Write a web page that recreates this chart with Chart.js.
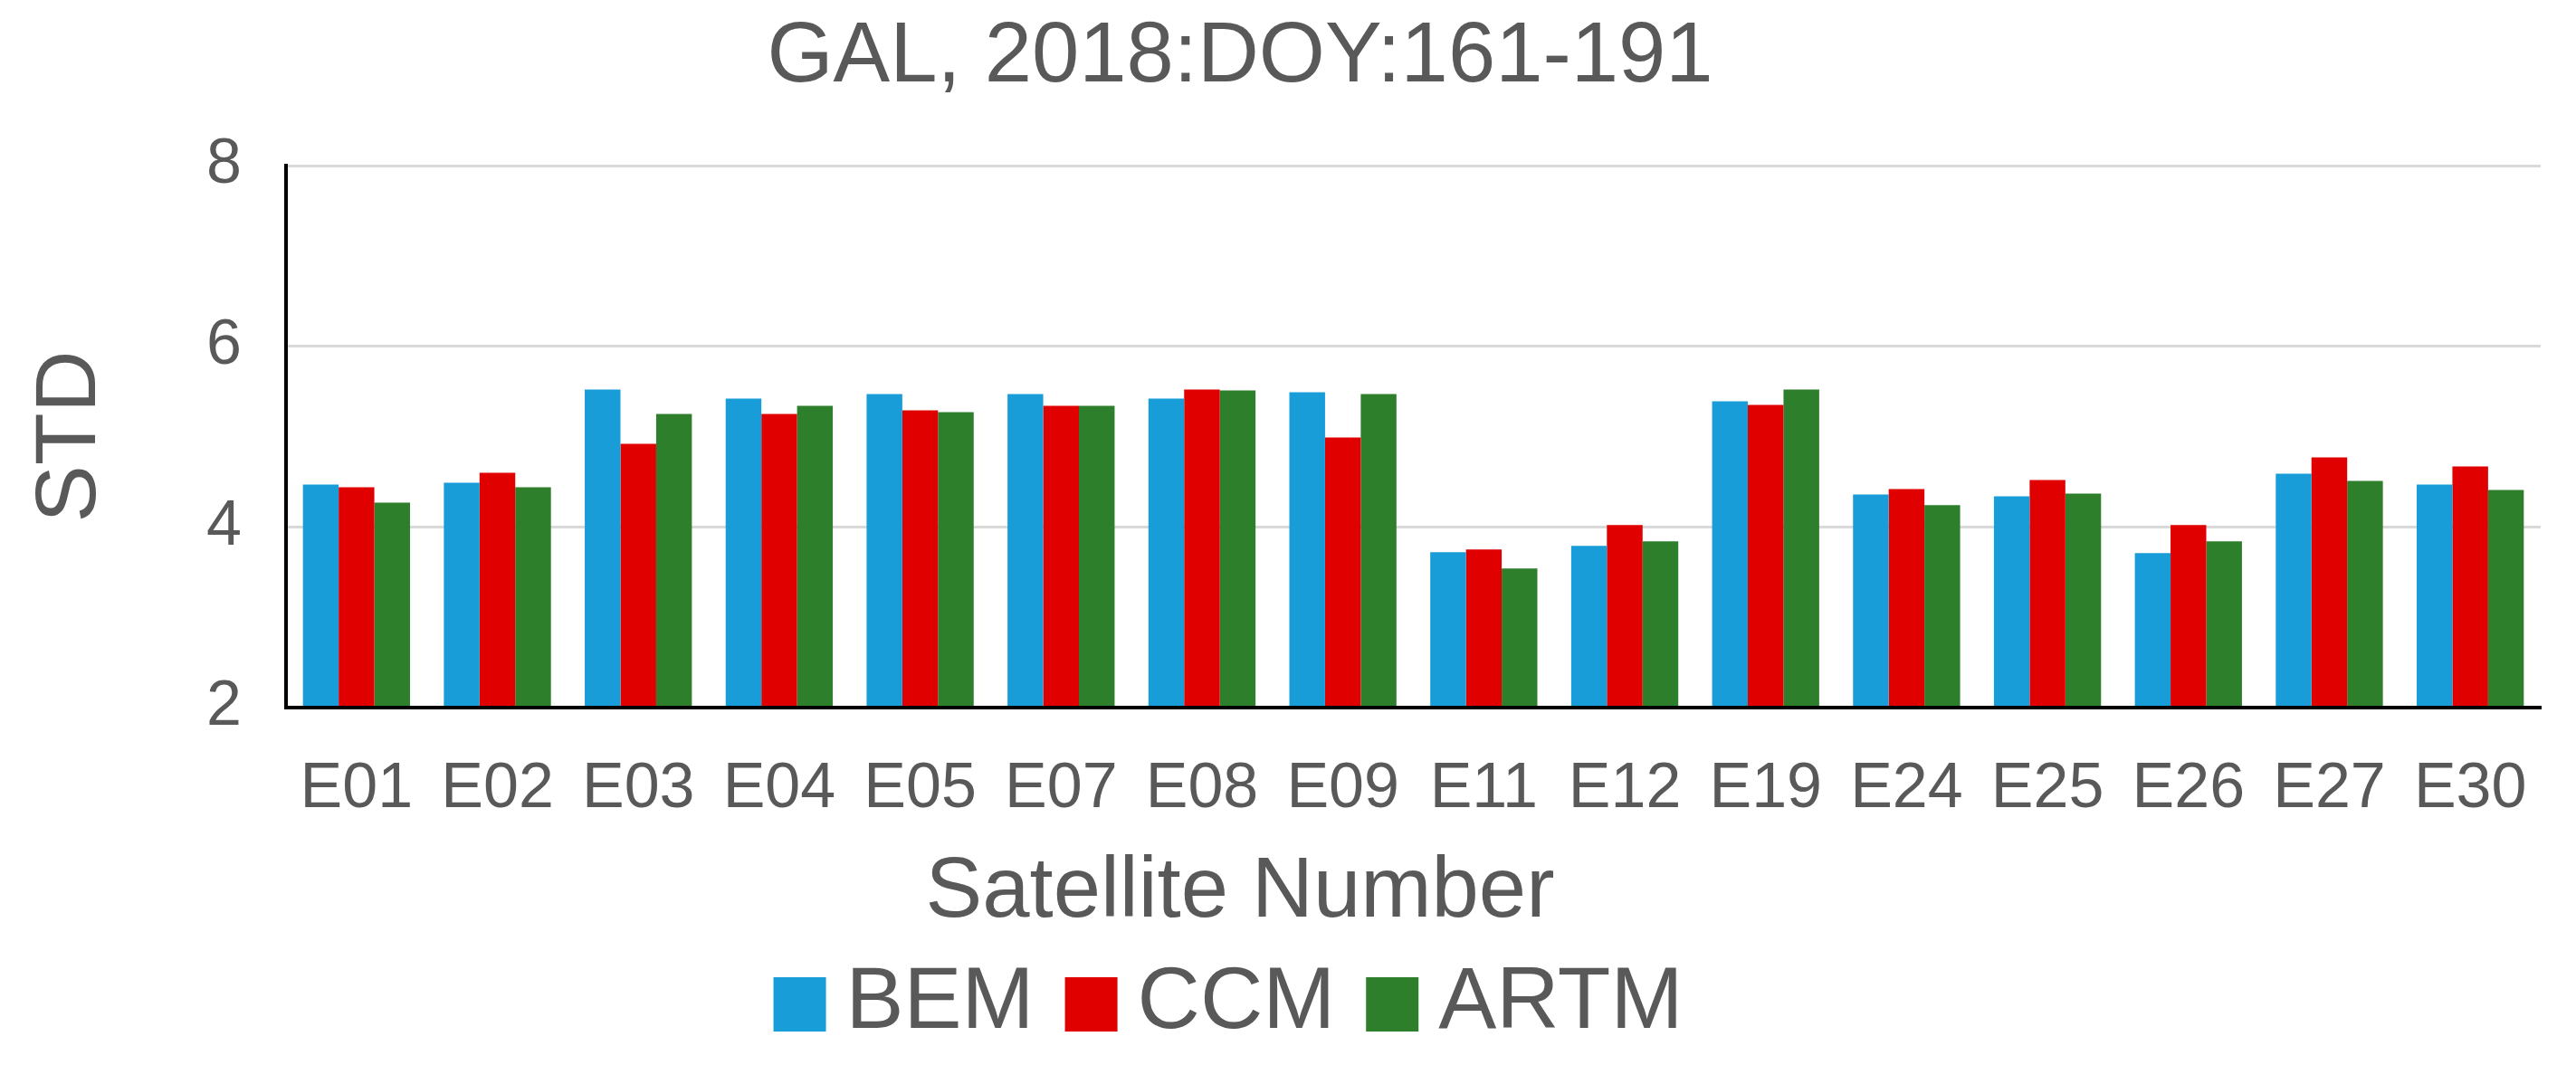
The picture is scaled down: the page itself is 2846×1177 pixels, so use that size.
<!DOCTYPE html>
<html>
<head>
<meta charset="utf-8">
<title>GAL STD</title>
<script src="https://cdn.jsdelivr.net/npm/chart.js@4.4.1/dist/chart.umd.min.js"></script>
<style>
  html, body { margin: 0; padding: 0; background: #fff; }
  #wrap { width: 2846px; height: 1177px; position: relative; }
</style>
</head>
<body>
<div id="wrap"><canvas id="chart"></canvas></div>
<script>
const satellites = ['E01', 'E02', 'E03', 'E04', 'E05', 'E07', 'E08', 'E09',
                    'E11', 'E12', 'E19', 'E24', 'E25', 'E26', 'E27', 'E30'];
const bemValues  = [4.47, 4.49, 5.52, 5.42, 5.47, 5.47, 5.42, 5.49, 3.72, 3.79, 5.39, 4.36, 4.34, 3.71, 4.59, 4.47];
const ccmValues  = [4.44, 4.60, 4.92, 5.25, 5.29, 5.34, 5.52, 4.99, 3.75, 4.02, 5.35, 4.42, 4.52, 4.02, 4.77, 4.67];
const artmValues = [4.27, 4.44, 5.25, 5.34, 5.27, 5.34, 5.51, 5.47, 3.54, 3.84, 5.52, 4.24, 4.37, 3.84, 4.51, 4.41];
const yTickValues = [2, 4, 6, 8];

const textColor = '#595959';
const fontFamily = '"Liberation Sans", Arial, sans-serif';

// legend swatch: a small rect with a fat stroke in the same colour,
// so the square sits closer to its text than the default gap allows
const swatchStroke = 52;

const ctx = document.getElementById('chart');

new Chart(ctx, {
    type: 'bar',
    data: {
        labels: satellites,
        datasets: [
            { label: 'BEM',  data: bemValues,  backgroundColor: '#189dd9' },
            { label: 'CCM',  data: ccmValues,  backgroundColor: '#e00000' },
            { label: 'ARTM', data: artmValues, backgroundColor: '#2e7f2b' }
        ]
    },
    options: {
        responsive: true,
        maintainAspectRatio: false,
        devicePixelRatio: 1,
        animation: false,
        // negative left padding shifts the centred title / legend block a bit to the left
        layout: { padding: { left: -67, right: 39, top: 0, bottom: 9 } },
        datasets: {
            bar: { categoryPercentage: 0.76, barPercentage: 1.0, borderWidth: 0 }
        },
        scales: {
            x: {
                grid: { display: false, drawTicks: false },
                border: { display: true, color: '#000', width: 4, z: 1 },
                ticks: {
                    color: textColor,
                    padding: 49,
                    font: { family: fontFamily, size: 70 }
                },
                afterFit: (scale) => { scale.height = 149; }
            },
            y: {
                min: yTickValues[0],
                max: yTickValues[yTickValues.length - 1],
                afterBuildTicks: (scale) => {
                    scale.ticks = yTickValues.map(v => ({ value: v }));
                },
                grid: {
                    drawTicks: false,
                    lineWidth: 3,
                    color: (c) => (c.tick && c.tick.value === yTickValues[0]) ? 'rgba(0,0,0,0)' : '#d9d9d9'
                },
                border: { display: true, color: '#000', width: 4, z: 1 },
                ticks: {
                    color: textColor,
                    padding: 49,
                    font: { family: fontFamily, size: 70 }
                },
                title: {
                    display: true,
                    text: 'STD',
                    color: textColor,
                    padding: { top: 89, bottom: 0 },
                    font: { family: fontFamily, size: 95 }
                },
                afterFit: (scale) => { scale.width = 383; }
            }
        },
        plugins: {
            title: {
                display: true,
                text: 'GAL, 2018:DOY:161-191',
                color: textColor,
                padding: { top: 8, bottom: 62.2 },
                font: { family: fontFamily, size: 94, weight: 'normal' }
            },
            subtitle: {
                display: true,
                position: 'bottom',
                weight: 500,
                text: 'Satellite Number',
                color: textColor,
                padding: { top: 0, bottom: -41.8 },
                font: { family: fontFamily, size: 94, weight: 'normal' }
            },
            legend: {
                position: 'bottom',
                weight: 1000,
                labels: {
                    color: textColor,
                    boxWidth: 58 - swatchStroke,
                    boxHeight: 60 - swatchStroke,
                    padding: 60,
                    font: { family: fontFamily, size: 96 },
                    generateLabels: (chart) => {
                        const items = Chart.defaults.plugins.legend.labels.generateLabels(chart);
                        return items.map(item => Object.assign(item, {
                            strokeStyle: item.fillStyle,
                            lineWidth: swatchStroke,
                            lineJoin: 'miter'
                        }));
                    }
                }
            },
            tooltip: { enabled: false }
        }
    }
});
</script>
</body>
</html>
